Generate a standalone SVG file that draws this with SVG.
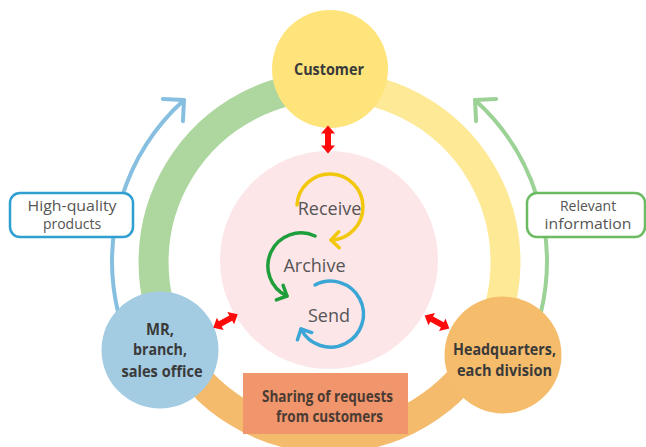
<svg xmlns="http://www.w3.org/2000/svg" width="646" height="447" viewBox="0 0 646 447">
  <style>
    .ring { fill: none; stroke-width: 30; }
    .side { fill: none; stroke-width: 4; stroke-linecap: round; }
    .inner { fill: none; stroke-width: 3.5; stroke-linecap: round; }
    .lbl { font-family: "Open Sans", "Liberation Sans", sans-serif; font-size: 14px; fill: #555555; text-anchor: middle; }
    .cyc { font-family: "Open Sans", "Liberation Sans", sans-serif; font-size: 18px; fill: #555555; text-anchor: middle; }
    .node { font-family: "Liberation Sans Narrow", "Open Sans", "Liberation Sans", sans-serif; font-weight: bold; font-size: 16.5px; fill: #3a3a3a; text-anchor: middle; }
    .share { font-family: "Liberation Sans Narrow", "Open Sans", "Liberation Sans", sans-serif; font-weight: bold; font-size: 16px; fill: #4a3b33; text-anchor: middle; }
    .box { fill: #ffffff; stroke-width: 2.5; }
    .dbl { fill: #ff0a0a; }
  </style>
  <defs>
    <marker id="mBlue" viewBox="-20 -20 40 40" markerWidth="40" markerHeight="40" markerUnits="userSpaceOnUse" refX="0" refY="0" orient="auto" overflow="visible">
      <path d="M -15 -15 L 0 0 L -15 15" fill="none" stroke="#86bfe0" stroke-width="4" stroke-linecap="round" stroke-linejoin="round"/>
    </marker>
    <marker id="mGreen" viewBox="-20 -20 40 40" markerWidth="40" markerHeight="40" markerUnits="userSpaceOnUse" refX="0" refY="0" orient="auto" overflow="visible">
      <path d="M -15 -15 L 0 0 L -15 15" fill="none" stroke="#9cd296" stroke-width="4" stroke-linecap="round" stroke-linejoin="round"/>
    </marker>
    <marker id="mYel" viewBox="-12 -12 24 24" markerWidth="24" markerHeight="24" markerUnits="userSpaceOnUse" refX="0" refY="0" orient="auto" overflow="visible">
      <path d="M -8 -8 L 0 0 L -8 8" fill="none" stroke="#f2c80f" stroke-width="3.5" stroke-linecap="round" stroke-linejoin="round"/>
    </marker>
    <marker id="mGrn" viewBox="-12 -12 24 24" markerWidth="24" markerHeight="24" markerUnits="userSpaceOnUse" refX="0" refY="0" orient="auto" overflow="visible">
      <path d="M -8 -8 L 0 0 L -8 8" fill="none" stroke="#1f9e3c" stroke-width="3.5" stroke-linecap="round" stroke-linejoin="round"/>
    </marker>
    <marker id="mBlu" viewBox="-12 -12 24 24" markerWidth="24" markerHeight="24" markerUnits="userSpaceOnUse" refX="0" refY="0" orient="auto" overflow="visible">
      <path d="M -8 -8 L 0 0 L -8 8" fill="none" stroke="#3aa6d6" stroke-width="3.5" stroke-linecap="round" stroke-linejoin="round"/>
    </marker>
    <path id="dblArrow" d="M -14 0 L -6 -7 L -6 -3 L 6 -3 L 6 -7 L 14 0 L 6 7 L 6 3 L -6 3 L -6 7 Z"/>
  </defs>

  <g id="connectors">
    <path id="ring-green" class="ring" stroke="#aed7a0" d="M 329.5 86 A 176 176 0 0 0 173.3 343"/>
    <path id="ring-yellow" class="ring" stroke="#fee996" d="M 329.5 86 A 176 176 0 0 1 484.6 345.2"/>
    <path id="ring-orange" class="ring" stroke="#f5bb6c" d="M 484.6 345.2 A 176 176 0 0 1 173.3 343"/>
    <path id="arrow-quality" class="side" stroke="#86bfe0" marker-end="url(#mBlue)" d="M 118 312 A 218 218 0 0 1 184 100"/>
    <path id="arrow-info" class="side" stroke="#9cd296" marker-end="url(#mGreen)" d="M 541 312 A 218 218 0 0 0 475 100"/>
  </g>

  <g id="label-quality">
    <rect class="box" stroke="#2f9fd1" x="10" y="193" width="123" height="44" rx="10"/>
    <text class="lbl" x="72" y="211" textLength="89" lengthAdjust="spacingAndGlyphs">High-quality</text>
    <text class="lbl" x="72" y="229">products</text>
  </g>
  <g id="label-info">
    <rect class="box" stroke="#6cbb63" x="527" y="193" width="118" height="44" rx="10"/>
    <text class="lbl" x="588" y="211">Relevant</text>
    <text class="lbl" x="588" y="229" textLength="87" lengthAdjust="spacingAndGlyphs">information</text>
  </g>

  <g id="center">
    <circle cx="329" cy="260" r="109" fill="#fde6e8"/>
    <path class="inner" stroke="#f2c80f" marker-end="url(#mYel)" d="M 297 205 A 33 33 0 1 1 331 240"/>
    <path class="inner" stroke="#1f9e3c" marker-end="url(#mGrn)" d="M 315 236 A 33 33 0 0 0 287 296"/>
    <path class="inner" stroke="#3aa6d6" marker-end="url(#mBlu)" d="M 315 285 A 33 33 0 1 1 301 329"/>
    <text class="cyc" x="329.5" y="215">Receive</text>
    <text class="cyc" x="314.5" y="272">Archive</text>
    <text class="cyc" x="329" y="322">Send</text>
  </g>

  <g id="node-customer">
    <ellipse cx="330" cy="69" rx="58" ry="59" fill="#fee47b"/>
    <text class="node" x="329" y="75" textLength="70" lengthAdjust="spacingAndGlyphs">Customer</text>
  </g>
  <g id="node-mr">
    <circle cx="160" cy="350" r="58.5" fill="#a3cbe2"/>
    <text class="node" x="160" y="335" textLength="28" lengthAdjust="spacingAndGlyphs">MR,</text>
    <text class="node" x="160" y="355" textLength="54" lengthAdjust="spacingAndGlyphs">branch,</text>
    <text class="node" x="162" y="377" textLength="81" lengthAdjust="spacingAndGlyphs">sales office</text>
  </g>
  <g id="node-hq">
    <circle cx="503" cy="355" r="58.5" fill="#f5bc6c"/>
    <text class="node" x="504.5" y="355" textLength="103" lengthAdjust="spacingAndGlyphs">Headquarters,</text>
    <text class="node" x="504.5" y="376" textLength="95" lengthAdjust="spacingAndGlyphs">each division</text>
  </g>

  <g id="links">
    <use href="#dblArrow" class="dbl" transform="translate(328 139.5) rotate(90)"/>
    <use href="#dblArrow" class="dbl" transform="translate(225.5 321) rotate(-29)"/>
    <use href="#dblArrow" class="dbl" transform="translate(437 322) rotate(28)"/>
  </g>

  <g id="node-sharing">
    <rect x="243" y="373" width="165" height="61" fill="#f0956c"/>
    <text class="share" x="327.5" y="402" textLength="131" lengthAdjust="spacingAndGlyphs">Sharing of requests</text>
    <text class="share" x="329.5" y="422" textLength="107" lengthAdjust="spacingAndGlyphs">from customers</text>
  </g>
</svg>
